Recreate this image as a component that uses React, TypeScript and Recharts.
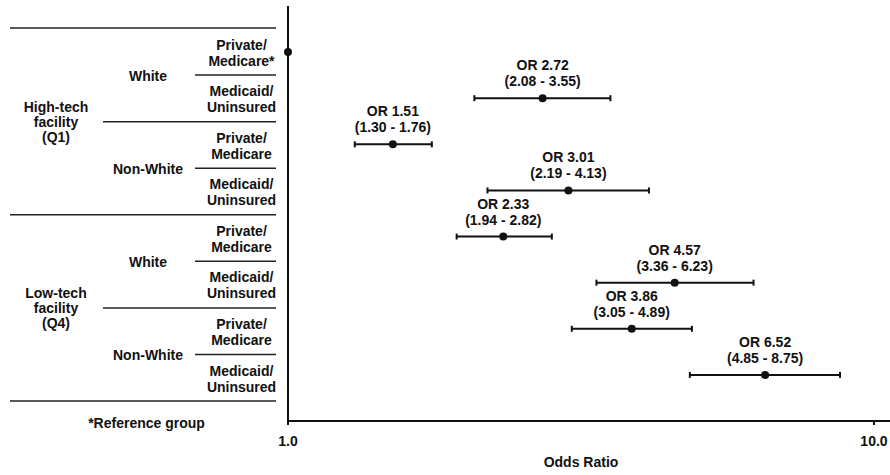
import { ScatterChart, Scatter, XAxis, YAxis, ErrorBar, Label } from "recharts";

// odds ratios per row, top to bottom
const oddsRatio = [1.0, 2.72, 1.51, 3.01, 2.33, 4.57, 3.86, 6.52];
const ciLow = [1.0, 2.08, 1.3, 2.19, 1.94, 3.36, 3.05, 4.85];
const ciHigh = [1.0, 3.55, 1.76, 4.13, 2.82, 6.23, 4.89, 8.75];

const insurance = [
  ["Private/", "Medicare*"],
  ["Medicaid/", "Uninsured"],
  ["Private/", "Medicare"],
  ["Medicaid/", "Uninsured"],
  ["Private/", "Medicare"],
  ["Medicaid/", "Uninsured"],
  ["Private/", "Medicare"],
  ["Medicaid/", "Uninsured"],
];
const race = ["White", "Non-White", "White", "Non-White"];
const facility = [
  ["High-tech", "facility", "(Q1)"],
  ["Low-tech", "facility", "(Q4)"],
];
const xTicks = [1, 10];

const FONT = "'Liberation Sans', Arial, Helvetica, sans-serif";
const INK = "#111";
const FS = 14;

const data = oddsRatio.map((v, i) => ({
  or: v,
  row: i,
  err: [v - ciLow[i], ciHigh[i] - v],
  lo: ciLow[i],
  hi: ciHigh[i],
}));

const txt = { fontFamily: FONT, fontSize: FS, fontWeight: 700, fill: INK } as const;
const rule = { stroke: "#222", strokeWidth: 1.5 };

function TableTick(props: any) {
  const { payload } = props;
  const i = payload.value as number;
  // table rows are a touch taller than the point spacing in the original
  const y = props.y + i * 0.45;
  const half = 23;
  const below = y + half;
  let x0 = 195;
  if (i % 2 === 1) x0 = i % 4 === 3 ? 10 : 103;
  return (
    <g>
      {i === 0 && <line x1={10} x2={276} y1={y - half - 1} y2={y - half - 1} {...rule} />}
      <line x1={x0} x2={276} y1={below} y2={below} {...rule} />
      <text x={241.5} y={y - 2.5} textAnchor="middle" {...txt}>
        {insurance[i][0]}
      </text>
      <text x={241.5} y={y + 13.5} textAnchor="middle" {...txt}>
        {insurance[i][1]}
      </text>
      {i % 2 === 0 && (
        <text x={148} y={below + 5.5} textAnchor="middle" {...txt}>
          {race[i / 2]}
        </text>
      )}
      {i % 4 === 1 &&
        facility[(i - 1) / 4].map((s, k) => (
          <text key={k} x={56} y={below - 9.5 + k * 15} textAnchor="middle" {...txt}>
            {s}
          </text>
        ))}
      {i === 7 && (
        <text x={146.5} y={below + 27} textAnchor="middle" {...txt}>
          *Reference group
        </text>
      )}
    </g>
  );
}

function Point(props: any) {
  const { cx, cy, payload } = props;
  const showLabel = payload.lo !== payload.hi;
  return (
    <g>
      <circle cx={cx} cy={cy} r={4} fill={INK} />
      {showLabel && (
        <>
          <text x={cx} y={cy - 28} textAnchor="middle" {...txt}>
            {`OR ${payload.or.toFixed(2)}`}
          </text>
          <text x={cx} y={cy - 12} textAnchor="middle" {...txt}>
            {`(${payload.lo.toFixed(2)} - ${payload.hi.toFixed(2)})`}
          </text>
        </>
      )}
    </g>
  );
}

export default function App() {
  return (
    <div style={{ position: "absolute", left: 0, top: 0, width: 890, height: 475, background: "#fff" }}>
      <ScatterChart width={890} height={475} margin={{ top: 6, right: 0, bottom: 0, left: 0 }}>
        <XAxis
          dataKey="or"
          type="number"
          scale="log"
          domain={[1, 10.65]}
          ticks={xTicks}
          interval={0}
          height={54}
          tickSize={4}
          tickMargin={11}
          tickFormatter={(v: number) => v.toFixed(1)}
          tick={{ ...txt }}
          axisLine={{ stroke: INK, strokeWidth: 2 }}
          tickLine={{ stroke: INK, strokeWidth: 2 }}
        >
          <Label
            content={({ viewBox }: any) => (
              <text x={viewBox.x + 293} y={viewBox.y + 46} textAnchor="middle" {...txt}>
                Odds Ratio
              </text>
            )}
          />
        </XAxis>
        <YAxis
          dataKey="row"
          type="number"
          domain={[-1, 8]}
          reversed
          ticks={[0, 1, 2, 3, 4, 5, 6, 7]}
          interval={0}
          width={288}
          tickLine={false}
          axisLine={{ stroke: INK, strokeWidth: 2 }}
          tick={TableTick}
        />
        <Scatter data={data} shape={Point} isAnimationActive={false}>
          <ErrorBar dataKey="err" direction="x" width={3} stroke={INK} strokeWidth={2} />
        </Scatter>
      </ScatterChart>
    </div>
  );
}
